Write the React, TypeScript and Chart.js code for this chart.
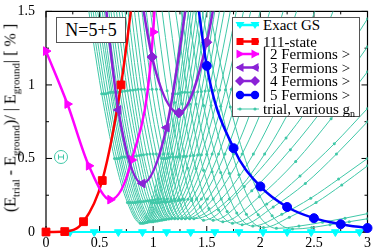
import React, { useEffect, useRef } from "react";
import { Chart, registerables } from "chart.js";

Chart.register(...registerables);

const FONT = "'Liberation Serif', 'Times New Roman', serif";
const TEAL = "#40c8a8";
const PURPLE = "#8a22d6";

// axis ticks
const xMajorTicks = [0, 0.5, 1, 1.5, 2, 2.5, 3];
const xTickLabels = ["0", "0.5", "1", "1.5", "2", "2.5", "3"];
const xMinorTicks = [0.25, 0.75, 1.25, 1.75, 2.25, 2.75];
const yMajorTicks = [0, 0.5, 1, 1.5];
const yTickLabels = ["0", "0.5", "1", "1.5"];
const yMinorTicks = [0.25, 0.75, 1.25];

// Exact ground state
const gsX = [0, 0.225, 0.45, 0.675, 0.9, 1.125, 1.35, 1.575, 1.8, 2.025, 2.25, 2.475, 2.7, 2.925];
const gsY = [0, 0, 0, 0, 0, 0, 0, 0, 0, 0, 0, 0, 0, 0];

// 111-state
const s111X = [0, 0.175, 0.35, 0.525, 0.7, 0.875];
const s111Y = [0, 0.003, 0.07, 0.35, 1.0, 2.0];

// |2 Fermions>
const f2X = [0, 0.2, 0.4, 0.6, 0.8, 1.0, 1.08];
const f2Y = [1.23, 0.87, 0.45, 0.22, 0.49, 1.36, 2.6];

// |3 Fermions>
const f3X = [0.45, 0.675, 0.9, 1.125, 1.35];
const f3Y = [2.3, 0.83, 0.33, 0.71, 1.75];

// |4 Fermions>
const f4X = [0.75, 0.99, 1.24, 1.5, 1.75];
const f4Y = [2.3, 1.19, 0.81, 1.29, 2.4];

// |5 Fermions>
const f5X = [1.25, 1.5, 1.75, 2.0, 2.25, 2.5, 2.75, 3.0];
const f5Y = [2.6, 1.13, 0.57, 0.31, 0.17, 0.094, 0.053, 0.027];

// trial, various g_n
const trialX = [
  [0.35, 0.52, 0.64, 0.76, 0.88, 0.98, 1.08, 1.18, 1.32],
  [0.37, 0.54, 0.66, 0.775, 0.895, 1.0, 1.1, 1.205, 1.345],
  [0.39, 0.56, 0.68, 0.79, 0.91, 1.02, 1.12, 1.23, 1.37],
  [0.41, 0.58, 0.695, 0.81, 0.925, 1.035, 1.14, 1.25, 1.395],
  [0.43, 0.6, 0.71, 0.83, 0.94, 1.05, 1.16, 1.27, 1.42],
  [0.455, 0.615, 0.73, 0.845, 0.955, 1.07, 1.185, 1.295, 1.455],
  [0.48, 0.63, 0.75, 0.86, 0.97, 1.09, 1.21, 1.32, 1.49],
  [0.5, 0.65, 0.765, 0.875, 0.985, 1.11, 1.23, 1.35, 1.52],
  [0.52, 0.67, 0.78, 0.89, 1.0, 1.13, 1.25, 1.38, 1.55],
  [0.54, 0.69, 0.8, 0.91, 1.02, 1.155, 1.28, 1.415, 1.59],
  [0.56, 0.71, 0.82, 0.93, 1.04, 1.18, 1.31, 1.45, 1.63],
  [0.585, 0.735, 0.845, 0.95, 1.06, 1.205, 1.345, 1.485, 1.68],
  [0.61, 0.76, 0.87, 0.97, 1.08, 1.23, 1.38, 1.52, 1.73],
  [0.635, 0.785, 0.89, 0.995, 1.1, 1.26, 1.415, 1.57, 1.79],
  [0.66, 0.81, 0.91, 1.02, 1.12, 1.29, 1.45, 1.62, 1.85],
  [0.69, 0.835, 0.94, 1.045, 1.145, 1.325, 1.5, 1.675, 1.925],
  [0.72, 0.86, 0.97, 1.07, 1.17, 1.36, 1.55, 1.73, 2.0],
  [0.75, 0.89, 1.0, 1.1, 1.2, 1.405, 1.61, 1.805, 2.095],
  [0.78, 0.92, 1.03, 1.13, 1.23, 1.45, 1.67, 1.88, 2.19],
  [0.815, 0.955, 1.065, 1.165, 1.265, 1.505, 1.75, 1.985, 2.325],
  [0.85, 0.99, 1.1, 1.2, 1.3, 1.56, 1.83, 2.09, 2.46],
  [0.89, 1.03, 1.14, 1.24, 1.34, 1.635, 1.935, 2.23, 2.645],
  [0.93, 1.07, 1.18, 1.28, 1.38, 1.71, 2.04, 2.37, 2.83],
  [0.98, 1.13, 1.25, 1.36, 1.47, 1.85, 2.24, 2.62, 3.0],
  [1.03, 1.2, 1.32, 1.44, 1.56, 1.92, 2.28, 2.64, 3.0],
  [1.09, 1.27, 1.4, 1.52, 1.65, 1.99, 2.33, 2.66, 3.0],
  [1.15, 1.34, 1.47, 1.61, 1.74, 2.06, 2.37, 2.69, 3.0],
  [1.2, 1.4, 1.55, 1.69, 1.83, 2.12, 2.42, 2.71, 3.0],
  [1.26, 1.47, 1.63, 1.78, 1.93, 2.2, 2.47, 2.73, 3.0],
  [1.32, 1.54, 1.71, 1.87, 2.03, 2.27, 2.52, 2.76, 3.0],
  [1.38, 1.63, 1.8, 1.98, 2.15, 2.36, 2.58, 2.79, 3.0],
  [1.44, 1.72, 1.91, 2.11, 2.3, 2.48, 2.65, 2.83, 3.0],
];
const trialY = [
  [1.74, 0.94, 0.5, 0.2, 0.06, 0.2, 0.5, 0.94, 1.74],
  [1.74, 0.94, 0.5, 0.2, 0.06, 0.2, 0.5, 0.94, 1.74],
  [1.74, 0.94, 0.5, 0.2, 0.06, 0.2, 0.5, 0.94, 1.74],
  [1.745, 0.945, 0.505, 0.2, 0.063, 0.2, 0.505, 0.945, 1.745],
  [1.75, 0.95, 0.51, 0.2, 0.065, 0.2, 0.51, 0.95, 1.75],
  [1.75, 0.95, 0.51, 0.203, 0.068, 0.203, 0.51, 0.95, 1.75],
  [1.75, 0.95, 0.51, 0.205, 0.07, 0.205, 0.51, 0.95, 1.75],
  [1.75, 0.95, 0.51, 0.205, 0.07, 0.205, 0.51, 0.95, 1.75],
  [1.75, 0.95, 0.51, 0.205, 0.07, 0.205, 0.51, 0.95, 1.75],
  [1.753, 0.953, 0.513, 0.208, 0.073, 0.208, 0.513, 0.953, 1.753],
  [1.755, 0.955, 0.515, 0.21, 0.075, 0.21, 0.515, 0.955, 1.755],
  [1.758, 0.958, 0.518, 0.213, 0.078, 0.213, 0.518, 0.958, 1.758],
  [1.76, 0.96, 0.52, 0.215, 0.08, 0.215, 0.52, 0.96, 1.76],
  [1.763, 0.963, 0.523, 0.218, 0.083, 0.218, 0.523, 0.963, 1.763],
  [1.765, 0.965, 0.525, 0.22, 0.085, 0.22, 0.525, 0.965, 1.765],
  [1.768, 0.968, 0.528, 0.223, 0.088, 0.223, 0.528, 0.968, 1.768],
  [1.77, 0.97, 0.53, 0.225, 0.09, 0.225, 0.53, 0.97, 1.77],
  [1.77, 0.97, 0.53, 0.225, 0.09, 0.225, 0.53, 0.97, 1.77],
  [1.77, 0.97, 0.53, 0.225, 0.09, 0.225, 0.53, 0.97, 1.77],
  [1.77, 0.97, 0.53, 0.225, 0.09, 0.225, 0.53, 0.97, 1.77],
  [1.77, 0.97, 0.53, 0.225, 0.09, 0.225, 0.53, 0.97, 1.77],
  [1.77, 0.97, 0.53, 0.225, 0.09, 0.225, 0.53, 0.97, 1.77],
  [1.77, 0.97, 0.53, 0.225, 0.09, 0.225, 0.53, 0.97, 1.77],
  [1.76, 0.96, 0.52, 0.215, 0.08, 0.31, 0.64, 1.02, 1.45],
  [1.8, 0.88, 0.435, 0.17, 0.08, 0.28, 0.56, 0.89, 1.26],
  [1.8, 0.87, 0.43, 0.16, 0.07, 0.24, 0.48, 0.77, 1.09],
  [1.8, 0.87, 0.42, 0.15, 0.06, 0.19, 0.38, 0.6, 0.84],
  [1.8, 0.87, 0.41, 0.14, 0.05, 0.17, 0.33, 0.53, 0.75],
  [1.81, 0.86, 0.405, 0.13, 0.04, 0.12, 0.23, 0.36, 0.5],
  [1.81, 0.86, 0.4, 0.12, 0.03, 0.1, 0.2, 0.32, 0.45],
  [1.81, 0.855, 0.39, 0.117, 0.025, 0.04, 0.066, 0.094, 0.125],
  [1.81, 0.85, 0.39, 0.11, 0.02, 0.03, 0.05, 0.07, 0.09],
];

// error-bar marker position (data coords)
const errMarkX = 0.14;
const errMarkY = 0.51;

const pts = (xs: number[], ys: number[]) => xs.map((x, i) => ({ x, y: ys[i] }));

const mainClip = { left: 8, right: 8, top: 0, bottom: 8 };

function mainSet(label: string, xs: number[], ys: number[], color: string, style: string, rot: number, r: number) {
  return {
    label,
    data: pts(xs, ys),
    showLine: true,
    borderColor: color,
    backgroundColor: color,
    pointBackgroundColor: color,
    pointBorderColor: color,
    borderWidth: 2.5,
    pointStyle: style,
    pointRotation: rot,
    pointRadius: r,
    pointBorderWidth: 1,
    cubicInterpolationMode: "monotone",
    clip: mainClip,
    order: 0,
  };
}

const framePlugin = {
  id: "frameTicks",
  beforeDatasetsDraw(chart: any) {
    const { ctx, chartArea: a, scales } = chart;
    const x = scales.x;
    const y = scales.y;
    ctx.save();
    ctx.strokeStyle = "#000";
    ctx.lineWidth = 1.2;
    ctx.strokeRect(a.left, a.top, a.right - a.left, a.bottom - a.top);
    ctx.lineWidth = 1;
    const tick = (x1: number, y1: number, x2: number, y2: number) => {
      ctx.beginPath();
      ctx.moveTo(x1, y1);
      ctx.lineTo(x2, y2);
      ctx.stroke();
    };
    xMajorTicks.forEach((v) => {
      const p = x.getPixelForValue(v);
      tick(p, a.bottom, p, a.bottom - 6);
      tick(p, a.top, p, a.top + 6);
    });
    xMinorTicks.forEach((v) => {
      const p = x.getPixelForValue(v);
      tick(p, a.bottom, p, a.bottom - 3);
      tick(p, a.top, p, a.top + 3);
    });
    yMajorTicks.forEach((v) => {
      const p = y.getPixelForValue(v);
      tick(a.left, p, a.left + 6, p);
      tick(a.right, p, a.right - 6, p);
    });
    yMinorTicks.forEach((v) => {
      const p = y.getPixelForValue(v);
      tick(a.left, p, a.left + 3, p);
      tick(a.right, p, a.right - 3, p);
    });
    ctx.restore();
  },
  afterDatasetsDraw(chart: any) {
    const { ctx, scales } = chart;
    const cx = scales.x.getPixelForValue(errMarkX);
    const cy = scales.y.getPixelForValue(errMarkY);
    ctx.save();
    ctx.strokeStyle = TEAL;
    ctx.lineWidth = 1;
    ctx.beginPath();
    ctx.arc(cx, cy, 6.5, 0, Math.PI * 2);
    ctx.stroke();
    ctx.beginPath();
    ctx.moveTo(cx - 2.5, cy);
    ctx.lineTo(cx + 2.5, cy);
    ctx.moveTo(cx - 2.5, cy - 2.5);
    ctx.lineTo(cx - 2.5, cy + 2.5);
    ctx.moveTo(cx + 2.5, cy - 2.5);
    ctx.lineTo(cx + 2.5, cy + 2.5);
    ctx.stroke();
    ctx.restore();
  },
};

function LegendMarker({ y, color, kind, thin }: { y: number; color: string; kind: string; thin?: boolean }) {
  const xs = [8, 23];
  const m = (cx: number) => {
    if (kind === "tri-down") return <polygon key={cx} points={`${cx - 4.5},${y - 3} ${cx + 4.5},${y - 3} ${cx},${y + 4}`} fill={color} />;
    if (kind === "square") return <rect key={cx} x={cx - 3.5} y={y - 3.5} width={7} height={7} fill={color} />;
    if (kind === "tri-right") return <polygon key={cx} points={`${cx - 3.5},${y - 4.5} ${cx - 3.5},${y + 4.5} ${cx + 4.5},${y}`} fill={color} />;
    if (kind === "tri-left") return <polygon key={cx} points={`${cx + 3.5},${y - 4.5} ${cx + 3.5},${y + 4.5} ${cx - 4.5},${y}`} fill={color} />;
    if (kind === "diamond") return <polygon key={cx} points={`${cx},${y - 5} ${cx + 5},${y} ${cx},${y + 5} ${cx - 5},${y}`} fill={color} />;
    if (kind === "circle") return <circle key={cx} cx={cx} cy={y} r={4.2} fill={color} />;
    return <circle key={cx} cx={cx} cy={y} r={1.6} fill={color} />;
  };
  return (
    <g>
      <line x1={5} y1={y} x2={27} y2={y} stroke={color} strokeWidth={thin ? 1 : 2.5} />
      {xs.map(m)}
    </g>
  );
}

export default function App() {
  const ref = useRef<HTMLCanvasElement>(null);
  useEffect(() => {
    const datasets: any[] = [
      mainSet("5 Fermions", f5X, f5Y, "#0000ff", "circle", 0, 4.5),
      mainSet("4 Fermions", f4X, f4Y, PURPLE, "rectRot", 0, 5),
      mainSet("3 Fermions", f3X, f3Y, PURPLE, "triangle", -90, 5),
      mainSet("2 Fermions", f2X, f2Y, "#ff00ff", "triangle", 90, 5),
      mainSet("111-state", s111X, s111Y, "#ff0000", "rect", 0, 5.5),
      { ...mainSet("Exact GS", gsX, gsY, "#00ffff", "triangle", 180, 4.5), borderWidth: 2 },
    ];
    trialX.forEach((xs, i) => {
      datasets.push({
        label: "trial " + i,
        data: pts(xs, trialY[i]),
        showLine: true,
        borderColor: TEAL,
        backgroundColor: TEAL,
        pointBackgroundColor: TEAL,
        pointBorderWidth: 0,
        borderWidth: 1,
        pointRadius: 1.5,
        cubicInterpolationMode: "monotone",
        order: 1,
      });
    });
    const chart = new Chart(ref.current as HTMLCanvasElement, {
      type: "scatter",
      data: { datasets },
      plugins: [framePlugin],
      options: {
        animation: false,
        responsive: false,
        events: [],
        layout: { padding: { top: 6, right: 4, left: 0, bottom: 0 } },
        plugins: { legend: { display: false }, tooltip: { enabled: false } },
        scales: {
          x: {
            type: "linear",
            min: 0,
            max: 3,
            grid: { display: false },
            border: { display: false },
            afterBuildTicks: (s: any) => {
              s.ticks = xMajorTicks.map((v) => ({ value: v }));
            },
            ticks: {
              autoSkip: false,
              maxRotation: 0,
              padding: -4,
              color: "#000",
              font: { family: FONT, size: 14, lineHeight: 1 },
              callback: (v: any) => xTickLabels[xMajorTicks.indexOf(Number(v))],
            },
            afterFit: (s: any) => {
              s.height = 15;
            },
          },
          y: {
            type: "linear",
            min: 0,
            max: 1.5,
            grid: { display: false },
            border: { display: false },
            afterBuildTicks: (s: any) => {
              s.ticks = yMajorTicks.map((v) => ({ value: v }));
            },
            ticks: {
              autoSkip: false,
              padding: 3,
              color: "#000",
              font: { family: FONT, size: 14 },
              callback: (v: any) => yTickLabels[yMajorTicks.indexOf(Number(v))],
            },
            afterFit: (s: any) => {
              s.width = 46;
            },
          },
        },
      } as any,
    });
    return () => chart.destroy();
  }, []);

  const sub = { fontSize: 11, position: "relative" as const, top: 4, verticalAlign: "baseline" };
  const rowText = (top: number, left: number, content: any, size = 15) => (
    <div style={{ position: "absolute", left, top: top - 8, lineHeight: "16px", fontSize: size, whiteSpace: "nowrap" }}>{content}</div>
  );
  const rows = [8, 24.5, 37, 50.5, 64, 78, 92];

  return (
    <div style={{ position: "absolute", left: 0, top: 0, width: 374, height: 247, background: "#fff", fontFamily: FONT, color: "#000", overflow: "hidden" }}>
      <canvas ref={ref} width={374} height={247} style={{ position: "absolute", left: 0, top: 0 }} />
      <div
        style={{
          position: "absolute",
          left: 11,
          top: 118,
          transform: "translate(-50%, -50%) rotate(-90deg)",
          whiteSpace: "nowrap",
          fontSize: 16,
          lineHeight: "18px",
        }}
      >
        (E<span style={sub}>trial</span> - E<span style={sub}>ground</span>)/ | E<span style={sub}>ground</span>| [ % ]
      </div>
      <div
        style={{
          position: "absolute",
          left: 56,
          top: 17,
          width: 70,
          height: 26,
          boxSizing: "border-box",
          border: "1px solid #555",
          background: "#fff",
          fontSize: 18,
          lineHeight: "24px",
          textAlign: "center",
        }}
      >
        N=5+5
      </div>
      <div
        style={{
          position: "absolute",
          left: 232,
          top: 17,
          width: 128,
          height: 100,
          boxSizing: "border-box",
          border: "1px solid #555",
          background: "#fff",
        }}
      >
        <svg width={128} height={100} style={{ position: "absolute", left: -1, top: -1 }}>
          <LegendMarker y={rows[0]} color="#00ffff" kind="tri-down" />
          <LegendMarker y={rows[1]} color="#ff0000" kind="square" />
          <LegendMarker y={rows[2]} color="#ff00ff" kind="tri-right" />
          <LegendMarker y={rows[3]} color={PURPLE} kind="tri-left" />
          <LegendMarker y={rows[4]} color={PURPLE} kind="diamond" />
          <LegendMarker y={rows[5]} color="#0000ff" kind="circle" />
          <LegendMarker y={rows[6]} color={TEAL} kind="dot" thin />
          <line x1={32.5} y1={30} x2={32.5} y2={85} stroke="#222" strokeWidth={1.3} />
        </svg>
        {rowText(rows[0] - 1, 30, "Exact GS")}
        {rowText(rows[1] - 1, 30, "111-state")}
        {rowText(rows[2] - 1, 37, "2 Fermions >")}
        {rowText(rows[3] - 1, 37, "3 Fermions >")}
        {rowText(rows[4] - 1, 37, "4 Fermions >")}
        {rowText(rows[5] - 1, 37, "5 Fermions >")}
        {rowText(
          rows[6] - 1,
          30,
          <span>
            trial, various g<span style={{ fontSize: 10, position: "relative", top: 3 }}>n</span>
          </span>,
          15
        )}
      </div>
    </div>
  );
}
